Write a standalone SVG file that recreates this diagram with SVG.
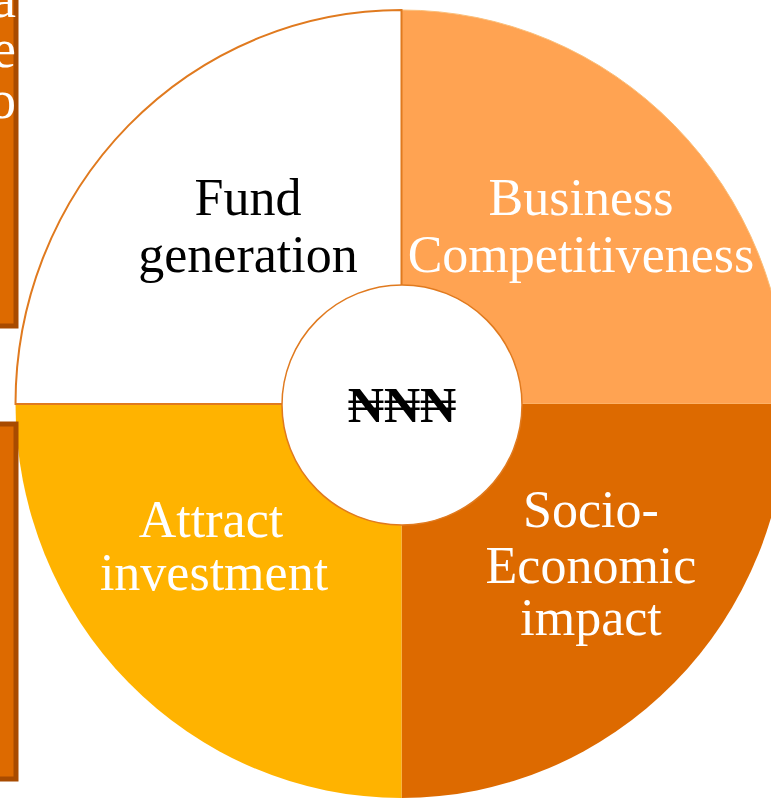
<svg xmlns="http://www.w3.org/2000/svg" width="771" height="799" viewBox="0 0 771 799">
  <style>
    .lbl { font-family: "Liberation Serif", "DejaVu Serif", serif; font-size: 52px; text-anchor: middle; }
    .side { font-family: "Liberation Serif", "DejaVu Serif", serif; font-size: 54px; text-anchor: end; fill: #ffffff; }
    .w { fill: #ffffff; }
    .k { fill: #000000; }
    .box { fill: #DD6A00; stroke: #A84B00; stroke-width: 5; }
  </style>

  <!-- side boxes, partly outside the frame -->
  <g id="box-top">
    <rect class="box" x="-20" y="-20" width="36" height="346"/>
    <text class="side"><tspan x="16" y="17">a</tspan><tspan x="16" y="67">e</tspan><tspan x="16" y="118">o</tspan></text>
  </g>

  <!-- pie quadrants -->
  <g id="slice-business">
    <path d="M401.5,404 L401.5,10 A386,394 0 0 1 787.5,404 Z" fill="#FFA352" stroke="#FBBF7A" stroke-width="1"/>
    <text class="lbl w" x="581" y="215">Business</text>
    <text class="lbl w" x="581" y="272">Competitiveness</text>
  </g>
  <g id="slice-socio">
    <path d="M401.5,404 L787.5,404 A386,394 0 0 1 401.5,798 Z" fill="#DD6A00"/>
    <text class="lbl w" x="591" y="527">Socio-</text>
    <text class="lbl w" x="591" y="583">Economic</text>
    <text class="lbl w" x="591" y="635">impact</text>
  </g>
  <g id="slice-attract">
    <path d="M401.5,404 L401.5,798 A386,394 0 0 1 15.5,404 Z" fill="#FFB300"/>
    <text class="lbl w" x="211" y="537">Attract</text>
    <text class="lbl w" x="214" y="590">investment</text>
  </g>
  <g id="slice-fund">
    <path d="M401.5,404 L401.5,10 A386,394 0 0 0 15.5,404 Z" fill="#ffffff" stroke="#E07A1F" stroke-width="2"/>
    <text class="lbl k" x="248" y="215">Fund</text>
    <text class="lbl k" x="248" y="272">generation</text>
  </g>

  <g id="box-bottom">
    <rect class="box" x="-20" y="424" width="36" height="355"/>
  </g>

  <!-- hub -->
  <g id="hub">
    <circle cx="402" cy="405" r="120" fill="#ffffff" stroke="#E07A1F" stroke-width="1.5"/>
    <text class="lbl k" x="402" y="422" style="font-size:50px;font-weight:bold">₦₦₦</text>
  </g>
</svg>
